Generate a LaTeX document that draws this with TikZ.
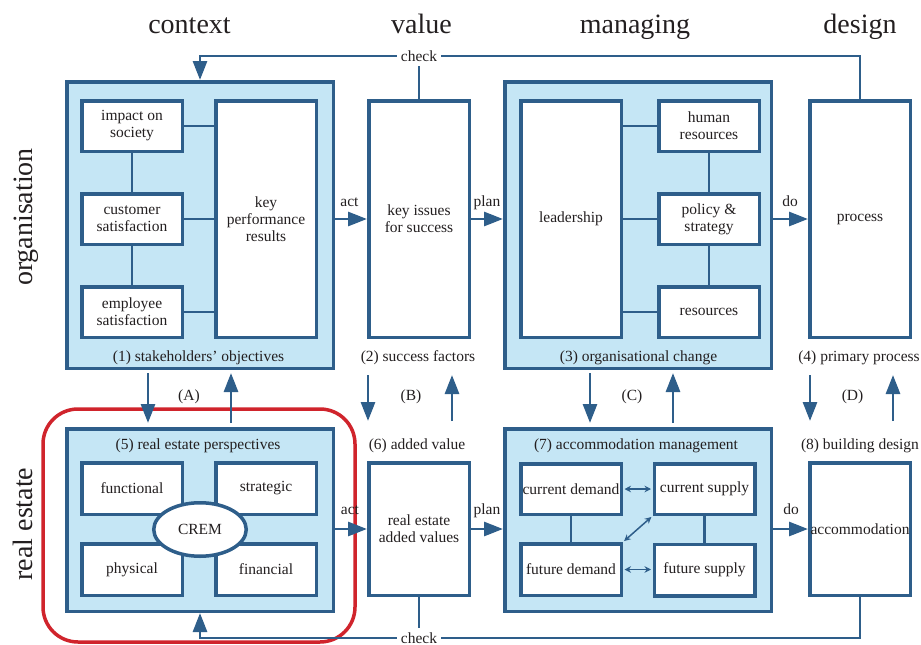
\documentclass[tikz,border=0pt]{standalone}
\usepackage{fontspec}
\setmainfont{Liberation Serif}
\usetikzlibrary{arrows.meta,shapes.geometric}
\definecolor{blu}{RGB}{46,94,138}
\definecolor{lblu}{RGB}{197,230,245}
\definecolor{redc}{RGB}{208,36,44}
\definecolor{ink}{RGB}{35,31,32}
\begin{document}
\begin{tikzpicture}[x=1pt,y=-1pt,
  tx/.style={font=\fontsize{15.5}{17}\selectfont, text=ink},
  grp/.style={draw=blu, line width=3.5pt, fill=lblu, minimum width=266.5pt},
  box/.style={draw=blu, line width=3.5pt, fill=white, inner sep=0.5pt, align=center, tx, minimum width=100.5pt, minimum height=50.5pt},
  tall/.style={box, minimum height=236.5pt},
  mid/.style={box, minimum height=132.5pt},
  ln/.style={draw=blu, line width=2.9pt},
  arr/.style={ln, -{Triangle[length=19pt,width=14pt]}},
  dbl/.style={draw=blu, line width=1.5pt, {Stealth[length=6.5pt,width=6.5pt]}-{Stealth[length=6.5pt,width=6.5pt]}, shorten <=1.5pt, shorten >=1.5pt},
  ttl/.style={font=\fontsize{28}{30}\selectfont, anchor=base, text=ink, inner sep=0pt},
  lbl/.style={tx, anchor=base, inner sep=0pt},
  chk/.style={tx, inner sep=4pt}
]
\useasboundingbox (0,0) rectangle (921,645);

% titles
\node[ttl] (tC) at (189.5,34) {context};
\node[ttl] (tV) at (421.5,34) {value};
\node[ttl] (tM) at (635,34) {managing};
\node[ttl] (tD) at (860,34) {design};
\node[ttl, rotate=90] (sO) at (32,217) {organisation};
\node[ttl, rotate=90] (sR) at (32,524) {real estate};

% red frame
\draw[redc, line width=3.5pt, rounded corners=35pt] (43,409) rectangle (355,642);

% group frames
\node[grp, minimum height=286.5pt] (G1) at (200,225) {};
\node[grp, minimum height=286.5pt] (G3) at (638,225) {};
\node[grp, minimum height=182.5pt] (G5) at (200,520) {};
\node[grp, minimum height=182.5pt] (G7) at (638,520) {};

% group 1
\node[box] (imp) at (132,126) {impact on\\society};
\node[box] (cus) at (132,219) {customer\\satisfaction};
\node[box] (emp) at (132,312) {employee\\satisfaction};
\node[tall] (kpr) at (266,219) {key\\performance\\results};
\draw[ln] (imp.east) -- (imp.east -| kpr.west);
\draw[ln] (cus.east) -- (cus.east -| kpr.west);
\draw[ln] (emp.east) -- (emp.east -| kpr.west);
\draw[ln] (imp.south) -- (cus.north);
\draw[ln] (cus.south) -- (emp.north);

% box 2
\node[tall] (kis) at (419,219) {key issues\\for success};

% group 3
\node[tall] (lead) at (571,219) {leadership};
\node[box] (hr) at (709,126) {human\\resources};
\node[box] (pol) at (709,219) {policy \&\\strategy};
\node[box] (res) at (709,312) {resources};
\draw[ln] (hr.west -| lead.east) -- (hr.west);
\draw[ln] (pol.west -| lead.east) -- (pol.west);
\draw[ln] (res.west -| lead.east) -- (res.west);
\draw[ln] (hr.south) -- (pol.north);
\draw[ln] (pol.south) -- (res.north);

% box 4
\node[tall] (proc) at (860,219) {process};

% group 5
\node[box, minimum height=51.5pt] (fun) at (132,488.5) {functional};
\node[box, minimum height=51.5pt] (str) at (266,488.5) {strategic};
\node[box, minimum height=51.5pt] (phy) at (132,569.5) {physical};
\node[box, minimum height=51.5pt] (fin) at (266,569.5) {financial};
\node[ellipse, draw=blu, line width=3.5pt, fill=white, tx, inner sep=0pt, minimum width=92.5pt, minimum height=53.5pt] (crem) at (200,529.5) {CREM};

% box 6
\node[mid] (rav) at (419,529) {real estate\\added values};

% group 7
\node[box] (cd) at (571,489) {current demand};
\node[box] (cs) at (704.5,489) {current supply};
\node[box, minimum height=51.5pt] (fd) at (571,569.5) {future demand};
\node[box, minimum height=51.5pt] (fs) at (704.5,570) {future supply};
\draw[ln] (cd.south) -- (fd.north);
\draw[ln] (cs.south) -- (fs.north);
\draw[dbl] (cd.east) -- (cd.east -| cs.west);
\draw[dbl] (fd.east) -- (fd.east -| fs.west);
\draw[dbl] (fd.north east) -- (cs.south west);

% box 8
\node[mid] (acc) at (860,529) {accommodation};

% group labels
\node[lbl] (l1) at (198.5,361) {(1) stakeholders' objectives};
\node[lbl] (l2) at (418,361) {(2) success factors};
\node[lbl] (l3) at (638.5,361) {(3) organisational change};
\node[lbl] (l4) at (859,361) {(4) primary process};
\node[lbl] (l5) at (198,449) {(5) real estate perspectives};
\node[lbl] (l6) at (417,449) {(6) added value};
\node[lbl] (l7) at (636,449) {(7) accommodation management};
\node[lbl] (l8) at (860,449) {(8) building design};

% horizontal flow arrows
\draw[arr] (kis.west -| G1.east) -- (kis.west);
\draw[arr] (kis.east) -- (kis.east -| G3.west);
\draw[arr] (proc.west -| G3.east) -- (proc.west);
\draw[arr] (rav.west -| G5.east) -- (rav.west);
\draw[arr] (rav.east) -- (rav.east -| G7.west);
\draw[arr] (acc.west -| G7.east) -- (acc.west);
\node[lbl] (a1) at (349.5,206) {act};
\node[lbl] (p1) at (487,206) {plan};
\node[lbl] (d1) at (790,206) {do};
\node[lbl] (a2) at (350,514) {act};
\node[lbl] (p2) at (487,514) {plan};
\node[lbl] (d2) at (791,514) {do};

% check loops
\node[chk] (chkT) at (419,56) {check};
\node[chk] (chkB) at (419,638) {check};
\draw[ln] (kis.north) -- (chkT.south);
\draw[ln] (proc.north) |- (chkT.east);
\draw[arr] (chkT.west) -| (G1.north);
\draw[ln] (rav.south) -- (chkB.north);
\draw[ln] (acc.south) |- (chkB.east);
\draw[arr] (chkB.west) -| (G5.south);

% vertical links between rows
\coordinate (xA1) at (148,0);
\coordinate (xA2) at (231,0);
\coordinate (xC1) at (590,0);
\coordinate (xC2) at (673,0);
\draw[arr, shorten <=3pt, shorten >=4pt] (G1.south -| xA1) -- (G5.north -| xA1);
\draw[arr, shorten <=4pt, shorten >=3pt] (G5.north -| xA2) -- (G1.south -| xA2);
\draw[arr, shorten <=3pt, shorten >=4pt] (G3.south -| xC1) -- (G7.north -| xC1);
\draw[arr, shorten <=4pt, shorten >=3pt] (G7.north -| xC2) -- (G3.south -| xC2);
\coordinate (B1t) at (368,375);
\coordinate (B1b) at (368,421);
\coordinate (B2t) at (452,375);
\coordinate (B2b) at (452,421);
\coordinate (D1t) at (810,375);
\coordinate (D1b) at (810,421);
\coordinate (D2t) at (893,375);
\coordinate (D2b) at (893,421);
\draw[arr] (B1t) -- (B1b);
\draw[arr] (B2b) -- (B2t);
\draw[arr] (D1t) -- (D1b);
\draw[arr] (D2b) -- (D2t);
\node[lbl] (lA) at (189,400) {(A)};
\node[lbl] (lB) at (411,400) {(B)};
\node[lbl] (lC) at (632,400) {(C)};
\node[lbl] (lD) at (852.5,400) {(D)};
\end{tikzpicture}
\end{document}
